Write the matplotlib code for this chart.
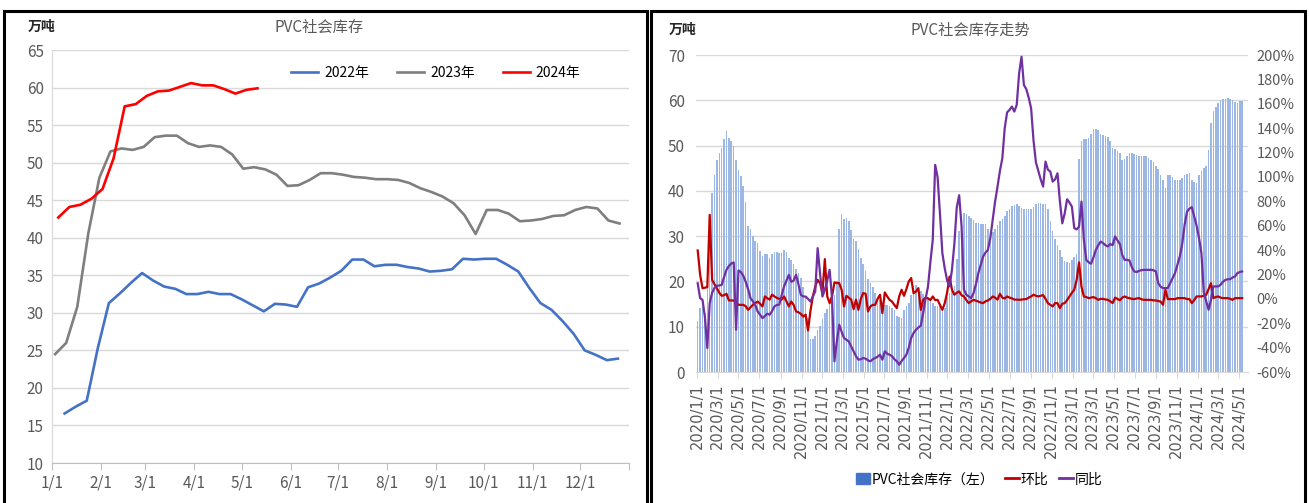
import numpy as np
import pandas as pd
import matplotlib
matplotlib.use("Agg")
import matplotlib.pyplot as plt
from matplotlib.lines import Line2D
from matplotlib.patches import Patch, Rectangle

plt.rcParams['font.family'] = ['Liberation Sans Narrow', 'Noto Sans CJK SC', 'DejaVu Sans']

# ---- left chart: PVC social inventory by year (万吨), weekly
v2022 = [16.6, 17.5, 18.3, 25.3, 31.3, 32.6, 34.0, 35.3, 34.3, 33.5,
         33.2, 32.5, 32.5, 32.8, 32.5, 32.5, 31.8, 31.0, 30.2, 31.2,
         31.1, 30.8, 33.4, 33.9, 34.7, 35.6, 37.1, 37.1, 36.2, 36.4,
         36.4, 36.1, 35.9, 35.5, 35.6, 35.8, 37.2, 37.1, 37.2, 37.2,
         36.4, 35.5, 33.3, 31.3, 30.4, 28.9, 27.2, 25.0, 24.4, 23.7, 23.9]
v2023 = [24.5, 26.0, 30.8, 40.6, 48.0, 51.5, 51.9, 51.7, 52.1, 53.4,
         53.6, 53.6, 52.6, 52.1, 52.3, 52.1, 51.1, 49.2, 49.4, 49.1,
         48.4, 46.9, 47.0, 47.7, 48.6, 48.6, 48.4, 48.1, 48.0, 47.8,
         47.8, 47.7, 47.3, 46.6, 46.1, 45.5, 44.6, 43.0, 40.5, 43.7,
         43.7, 43.2, 42.2, 42.3, 42.5, 42.9, 43.0, 43.7, 44.1, 43.9,
         42.3, 41.9]
v2024 = [42.7, 44.1, 44.4, 45.2, 46.5, 50.6, 57.5, 57.8, 58.9, 59.5,
         59.6, 60.1, 60.6, 60.3, 60.3, 59.8, 59.2, 59.7, 59.9]
start_dates = {'2022年': '2022-01-09', '2023年': '2023-01-03', '2024年': '2024-01-05'}
month_labels = ['1/1', '2/1', '3/1', '4/1', '5/1', '6/1', '7/1', '8/1', '9/1', '10/1', '11/1', '12/1']
month_days = [0, 31, 59, 90, 120, 151, 181, 212, 243, 273, 304, 334]

# ---- right chart: weekly inventory (万吨) and changes (%)
stock = [11.2, 14.1, 14.5, 13.0, 25.0, 35.0, 39.6, 43.6, 46.9, 48.4,
         49.5, 51.4, 53.2, 51.7, 51.0, 50.0, 46.9, 44.7, 43.3, 41.0,
         37.6, 32.2, 31.5, 30.0, 28.9, 28.5, 26.7, 25.6, 26.1, 26.1,
         25.2, 26.1, 26.6, 26.6, 26.3, 26.3, 27.0, 26.5, 25.1, 24.8,
         23.9, 22.8, 21.9, 20.8, 18.8, 16.5, 12.0, 7.3, 7.4, 8.0,
         9.2, 10.1, 11.6, 13.0, 14.0, 15.0, 16.0, 17.0, 20.0, 31.5,
         34.8, 33.7, 34.0, 33.3, 31.3, 29.3, 29.0, 27.2, 25.2, 23.9,
         22.4, 20.6, 19.7, 18.8, 17.5, 16.4, 16.0, 15.5, 14.9, 14.8,
         14.6, 14.2, 13.8, 12.4, 12.2, 12.0, 13.8, 14.5, 15.2, 17.0,
         19.0, 19.3, 18.5, 17.9, 17.3, 16.8, 16.4, 16.0, 15.3, 14.6,
         14.6, 14.6, 14.4, 14.2, 16.5, 17.5, 18.0, 19.0, 25.0, 31.1,
         33.5, 35.2, 35.0, 34.5, 34.0, 33.5, 33.0, 32.8, 32.6, 32.6,
         32.6, 31.6, 30.7, 31.0, 31.5, 32.4, 33.3, 33.9, 34.4, 35.5,
         36.0, 36.6, 36.8, 37.0, 36.6, 36.3, 36.1, 35.9, 35.9, 35.9,
         36.5, 37.2, 37.3, 37.4, 37.2, 37.0, 35.9, 33.3, 31.1, 29.3,
         28.0, 27.0, 25.5, 24.5, 24.3, 24.0, 24.8, 25.5, 26.0, 47.0,
         51.0, 51.4, 51.5, 51.7, 52.5, 53.6, 53.6, 53.4, 52.5, 52.3,
         52.1, 51.8, 51.0, 49.5, 49.2, 48.8, 48.4, 46.9, 47.1, 47.8,
         48.4, 48.4, 48.2, 48.0, 47.8, 47.7, 47.7, 47.7, 47.3, 46.9,
         46.4, 45.5, 44.8, 43.6, 42.5, 40.7, 43.6, 43.4, 43.0, 42.5,
         42.5, 42.5, 42.9, 43.4, 43.8, 44.0, 42.5, 42.0, 41.8, 43.6,
         44.3, 45.0, 45.5, 49.0, 55.0, 57.6, 58.5, 59.5, 60.0, 60.2,
         60.4, 60.6, 60.2, 60.0, 59.6, 59.3, 59.8, 59.9]
wow = [39.7, 20.0, 8.7, 9.2, 9.6, 68.9, 15.6, 12.0, 8.7, 5.0,
       2.5, 3.0, 4.2, -1.3, -1.3, -1.3, -3.0, -4.9, -4.9, -4.9,
       -6.0, -9.0, -7.0, -4.9, -3.5, -2.2, -4.0, -6.2, 2.0, 0.5,
       -0.6, 3.5, 2.0, 0.8, 0.0, -0.6, 2.0, -2.0, -6.2, -2.2,
       -5.0, -10.3, -11.0, -12.3, -14.5, -13.0, -25.9, -10.0, 2.0, 10.0,
       15.6, 12.9, 4.7, 32.6, 2.0, -3.5, 2.0, 13.5, 13.0, 12.9,
       7.5, -6.2, 2.5, 1.0, -0.6, -8.4, -0.6, -9.0, 0.0, 4.7,
       4.2, -10.3, -6.2, -4.9, -4.9, 0.0, 3.4, -11.7, 5.3, 2.0,
       -0.8, -2.2, -5.0, -7.6, 2.0, 7.5, 2.5, 8.0, 14.3, 17.1,
       4.7, 6.0, 8.8, -9.0, -0.8, 1.0, 0.5, -1.0, 2.0, -1.0,
       -0.8, -5.0, -9.0, -3.5, 5.3, 18.3, 7.5, 3.4, 5.0, 6.1,
       3.0, 2.0, -1.0, -3.5, -2.0, -0.8, -1.5, -2.2, -3.0, -3.5,
       -2.0, -1.3, 0.0, 2.0, 1.0, -0.6, 4.2, 1.0, 0.3, 2.0,
       1.0, 0.5, -0.6, -0.6, -0.8, -0.6, -0.3, -0.2, 1.0, 2.0,
       3.4, 2.5, 2.0, 2.5, 3.1, 0.0, -3.5, -4.9, -6.2, -3.5,
       -3.5, -7.6, -4.0, -3.5, -1.0, 2.0, 5.0, 7.5, 15.6, 29.9,
       10.0, 2.0, 1.5, 0.6, 1.0, 1.5, 0.5, -0.8, 0.0, 0.0,
       -0.5, -0.8, -2.0, -3.5, 1.0, 0.0, -1.2, 1.0, 2.0, 1.0,
       0.6, 0.0, -0.2, 0.3, 0.6, -0.3, -0.8, -0.8, -0.8, -0.8,
       -1.2, -1.3, -1.8, -2.2, -4.9, 7.5, -0.2, -0.2, -0.2, -0.2,
       0.6, 0.6, 0.6, 0.6, -0.2, -0.2, -3.5, -1.0, 2.0, 2.0,
       2.0, 2.5, 3.4, 8.0, 12.9, 0.6, 1.5, 2.0, 1.0, 0.6,
       0.6, 0.6, 0.0, -0.8, 0.6, 0.6, 0.6, 0.6]
yoy = [12.8, 0.6, -0.8, -15.0, -40.3, -3.5, 5.0, 9.0, 10.7, 11.0,
       11.5, 18.0, 23.8, 27.0, 29.0, 29.9, -25.3, 23.3, 22.0, 19.0,
       14.0, 8.0, 0.6, -2.0, -5.0, -10.3, -13.0, -15.8, -14.0, -12.2,
       -13.0, -10.0, -6.2, -5.0, -4.8, 3.0, 10.2, 15.0, 19.7, 14.0,
       15.0, 19.7, 12.0, 3.3, 2.0, 1.9, 0.0, -2.2, 2.0, 6.1,
       41.6, 21.1, 1.9, 7.5, 15.0, 23.8, 0.6, -51.2, -35.0, -21.2,
       -27.0, -32.1, -33.5, -35.0, -39.0, -43.0, -47.0, -49.9, -49.5, -48.5,
       -49.0, -50.5, -51.2, -49.5, -48.5, -47.5, -45.8, -49.9, -43.0, -45.0,
       -45.8, -47.0, -49.5, -51.2, -54.0, -51.0, -48.5, -45.8, -40.0, -32.1,
       -28.0, -25.3, -23.5, -22.0, -11.7, 0.0, 10.0, 30.0, 48.4, 109.9,
       100.0, 70.0, 37.5, 25.0, 15.0, 10.2, 23.8, 45.0, 75.0, 85.0,
       60.0, 7.5, 3.4, 2.0, 0.6, 4.7, 12.0, 21.1, 28.0, 34.8,
       38.0, 40.2, 50.0, 65.0, 80.0, 92.1, 105.0, 115.3, 140.0, 153.0,
       155.0, 157.7, 153.6, 159.1, 185.0, 198.6, 175.4, 172.0, 165.0, 156.3,
       130.0, 112.0, 105.0, 98.0, 92.1, 112.6, 106.0, 104.4, 96.2, 98.0,
       103.0, 80.0, 62.0, 70.0, 81.7, 79.0, 75.7, 58.0, 57.0, 59.3,
       79.8, 48.4, 32.0, 30.0, 28.8, 34.0, 40.2, 44.0, 47.0, 45.7,
       44.0, 43.0, 45.0, 44.0, 51.2, 48.0, 45.0, 36.0, 32.0, 32.0,
       31.5, 26.0, 22.5, 22.0, 23.0, 23.5, 23.8, 23.8, 23.8, 23.8,
       23.5, 22.5, 12.9, 10.0, 8.8, 8.8, 9.0, 12.9, 17.0, 21.1,
       28.0, 34.8, 45.0, 60.7, 71.6, 74.0, 75.2, 67.5, 60.0, 50.0,
       37.5, 5.0, -2.0, -8.9, -0.8, 10.2, 10.2, 10.2, 11.6, 14.0,
       15.6, 16.0, 16.2, 17.5, 18.4, 21.1, 22.0, 22.5]

grey = '#595959'
grid = '#D9D9D9'

fig = plt.figure(figsize=(13.09, 5.03), dpi=100)

#
# LEFT
ax = fig.add_axes([0.0397, 0.0795, 0.4408, 0.821])
colors = {'2022年': '#4472C4', '2023年': '#7F7F7F', '2024年': '#FF0000'}
for (name, vals) in zip(['2022年', '2023年', '2024年'], [v2022, v2023, v2024]):
  d = pd.date_range(start_dates[name], periods=len(vals), freq='7D')
  days = (d - pd.Timestamp(d[0].year, 1, 1)).days
  ax.plot(days, vals, color=colors[name], lw=1.9, label=name)

ax.set_xlim(0, 365)
ax.set_ylim(10, 65)
ax.set_yticks(range(10, 66, 5))
ax.set_xticks(month_days + [365])
ax.set_xticklabels(month_labels + [''])
ax.grid(axis='y', color=grid, lw=1)
ax.set_axisbelow(True)
for s in ['top', 'right']:
  ax.spines[s].set_visible(False)
ax.spines['left'].set_color(grid)
ax.spines['bottom'].set_color('#BFBFBF')
ax.tick_params(axis='y', length=0, labelsize=11, labelcolor=grey, pad=6)
ax.tick_params(axis='x', length=5, color='#BFBFBF', labelsize=11, labelcolor=grey, pad=3)
ax.legend(loc='center', bbox_to_anchor=(0.665, 0.945), ncol=3, frameon=False,
          fontsize=10, handlelength=2.0, columnspacing=2.0, handletextpad=0.4)
fig.text(0.021, 0.946, '万吨', fontsize=10, fontweight='bold', color='#262626', ha='left', va='center')
fig.text(0.244, 0.946, 'PVC社会库存', fontsize=11, color=grey, ha='center', va='center')

#
# RIGHT
dates = pd.date_range('2020-01-03', periods=len(stock), freq='7D')
axr = fig.add_axes([0.5317, 0.2604, 0.4217, 0.6302])
axr.bar(dates, stock, width=4.6, color='#9DB7E4', zorder=2)
axr.set_ylim(0, 70)
axr.set_yticks(range(0, 71, 10))
axr.set_xlim(pd.Timestamp('2019-12-29'), pd.Timestamp('2024-05-27'))
ticks = pd.date_range('2020-01-01', '2024-05-01', freq='2MS')
axr.set_xticks(ticks)
axr.set_xticklabels([f'{t.year}/{t.month}/{t.day}' for t in ticks], rotation=90,
                    fontfamily=['DejaVu Sans'], fontsize=10.5)
axr.grid(axis='y', color=grid, lw=1, zorder=0)
axr.set_axisbelow(True)
for s in ['top', 'right', 'left']:
  axr.spines[s].set_visible(False)
axr.spines['bottom'].set_color('#D9D9D9')
axr.tick_params(axis='y', length=0, labelsize=11, labelcolor=grey, pad=8)
axr.tick_params(axis='x', length=4, color='#D9D9D9', labelcolor=grey, pad=4)

ax2 = axr.twinx()
ax2.plot(dates, wow, color='#C00000', lw=1.6, zorder=3)
ax2.plot(dates, yoy, color='#7030A0', lw=1.6, zorder=4)
ax2.set_ylim(-60, 200)
ax2.set_yticks(range(-60, 201, 20))
ax2.set_yticklabels([f'{v}%' for v in range(-60, 201, 20)])
for s in ['top', 'right', 'left', 'bottom']:
  ax2.spines[s].set_visible(False)
ax2.tick_params(axis='y', length=0, labelsize=10.5, labelcolor=grey, pad=6)

handles = [Patch(color='#4472C4'),
           Line2D([], [], color='#C00000', lw=2),
           Line2D([], [], color='#7030A0', lw=2)]
fig.legend(handles, ['PVC社会库存（左）', '环比', '同比'], loc='center',
           bbox_to_anchor=(0.748, 0.047), ncol=3, frameon=False, fontsize=10,
           handlelength=1.0, handleheight=0.8, handletextpad=0.1, columnspacing=0.8)
fig.text(0.511, 0.94, '万吨', fontsize=10, fontweight='bold', color='#262626', ha='left', va='center')
fig.text(0.741, 0.94, 'PVC社会库存走势', fontsize=11, color=grey, ha='center', va='center')

# panel frames
for (x0, x1) in [(4, 647), (651, 1305)]:
  fig.patches.append(Rectangle((x0 / 1309, -0.05), (x1 - x0) / 1309, 1.04 - 6 / 503,
                               transform=fig.transFigure, fill=False, ec='black', lw=2.2))

fig.savefig('out.png', dpi=100)
